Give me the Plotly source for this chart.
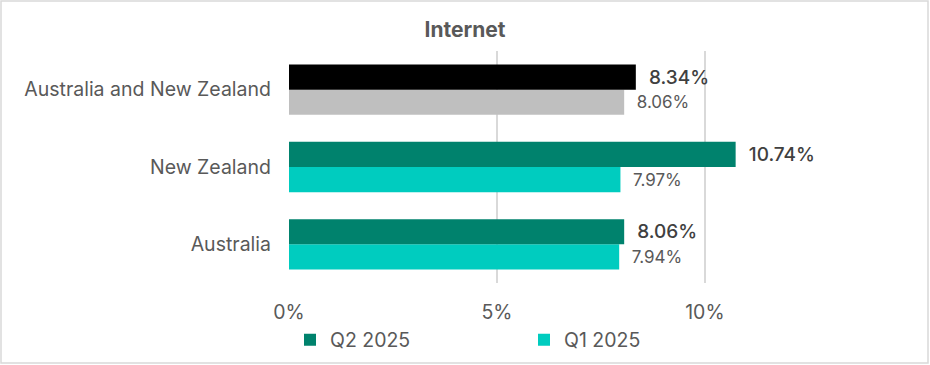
import plotly.graph_objects as go

categories = ["Australia", "New Zealand", "Australia and New Zealand"]
q2_values = [8.06, 10.74, 8.34]
q1_values = [7.94, 7.97, 8.06]
q2_colors = ["#00826D", "#00826D", "#000000"]
q1_colors = ["#00CCBF", "#00CCBF", "#BFBFBF"]
tick_vals = [0, 5, 10]
tick_text = ["0%", "5%", "10%"]

FONT = "Inter, Lato, sans-serif"

fig = go.Figure()
fig.add_trace(go.Bar(
    y=categories, x=q1_values, orientation="h", name="Q1 2025",
    marker=dict(color=q1_colors, line=dict(width=0)),
    texttemplate="  %{x:.2f}%", textposition="outside",
    textfont=dict(family=FONT, size=17, color="#595959"),
    cliponaxis=False, legendrank=2,
))
fig.add_trace(go.Bar(
    y=categories, x=q2_values, orientation="h", name="Q2 2025",
    marker=dict(color=q2_colors, line=dict(width=0)),
    texttemplate="  %{x:.2f}%", textposition="outside",
    textfont=dict(family=FONT, size=19, color="#404040", weight=500),
    cliponaxis=False, legendrank=1,
))

W, H = 930, 365
L, R, T, B = 289, 38, 51, 82
pw, ph = W - L - R, H - T - B

def px_x(p):
    return (p - L) / pw

def px_y(p):
    return (H - B - p) / ph

fig.update_layout(
    width=W, height=H,
    margin=dict(l=L, r=R, t=T, b=B, autoexpand=False),
    paper_bgcolor="white", plot_bgcolor="white",
    barmode="group", bargap=0.35, bargroupgap=0,
    title=dict(text="<b>Internet</b>", x=0.5, xanchor="center", y=1 - 30 / H, yanchor="middle",
               font=dict(family=FONT, size=21, color="#595959")),
    font=dict(family=FONT, color="#595959"),
    xaxis=dict(range=[0, 14.5], tickvals=tick_vals, ticktext=tick_text,
               showgrid=True, gridcolor="#D9D9D9", gridwidth=1.5,
               zeroline=False, showline=False, ticklabelstandoff=15,
               tickfont=dict(family=FONT, size=19.5, color="#595959"), ticklen=0),
    yaxis=dict(showgrid=False, zeroline=False, showline=False, ticklabelstandoff=17,
               tickfont=dict(family=FONT, size=19.5, color="#595959")),
    legend=dict(orientation="h", x=px_x(290), xanchor="left", y=px_y(340), yanchor="middle",
                entrywidth=189, entrywidthmode="pixels", bgcolor="rgba(0,0,0,0)",
                font=dict(family=FONT, size=19.5, color="#595959"),
                itemwidth=30, traceorder="normal"),
    shapes=[dict(type="rect", xref="paper", yref="paper",
                 x0=px_x(1), x1=px_x(928), y0=px_y(363), y1=px_y(1),
                 line=dict(color="#D9D9D9", width=1.5), fillcolor="rgba(0,0,0,0)", layer="below")],
)

fig.write_html("out.html", config={"displayModeBar": False},
               post_script="document.body.style.margin='0';")
